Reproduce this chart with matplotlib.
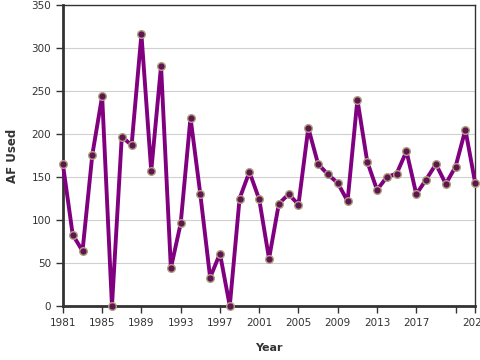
import numpy as np
import matplotlib.pyplot as plt

years = list(range(1981, 2024))
af_used = [165, 83, 64, 176, 244, 0, 197, 187, 316, 157,
           279, 44, 96, 219, 130, 33, 61, 0, 125, 156,
           124, 55, 119, 130, 118, 207, 165, 153, 143, 122,
           240, 168, 135, 150, 154, 180, 130, 147, 165, 142,
           162, 205, 143]

tick_years = [1981, 1985, 1989, 1993, 1997, 2001, 2005, 2009, 2013, 2017, 2021, 2023]
tick_labels = ["1981", "1985", "1989", "1993", "1997", "2001", "2005", "2009",
               "2013", "2017", "", "2023"]

fig = plt.figure(figsize=(4.8, 3.6), dpi=100)
ax = fig.add_axes([0.131, 0.15, 0.859, 0.836])

ax.plot(years, af_used, color='#800080', linewidth=2.8, zorder=3,
        marker='o', markersize=5.5, markerfacecolor='#5e1550',
        markeredgecolor='#b0a080', markeredgewidth=1.0, clip_on=False)

ax.set_xlim(1981, 2023)
ax.set_ylim(0, 350)
ax.set_yticks(np.arange(0, 351, 50))
ax.set_xticks(tick_years)
ax.set_xticklabels(tick_labels)
ax.yaxis.grid(True, color='#d0d0d0', linewidth=0.8)
ax.set_axisbelow(True)

for side in ['left', 'bottom']:
    ax.spines[side].set_linewidth(2)
    ax.spines[side].set_color('#333333')
for side in ['top', 'right']:
    ax.spines[side].set_linewidth(1)
    ax.spines[side].set_color('#333333')

ax.tick_params(axis='both', labelsize=7.5, colors='#333333', length=5, width=1)
ax.set_xlabel("Year", fontsize=8, fontweight='bold', color='#333333', labelpad=11)
ax.set_ylabel("AF Used", fontsize=8.5, fontweight='bold', color='#333333', labelpad=9)

fig.savefig("out.png", dpi=100)
